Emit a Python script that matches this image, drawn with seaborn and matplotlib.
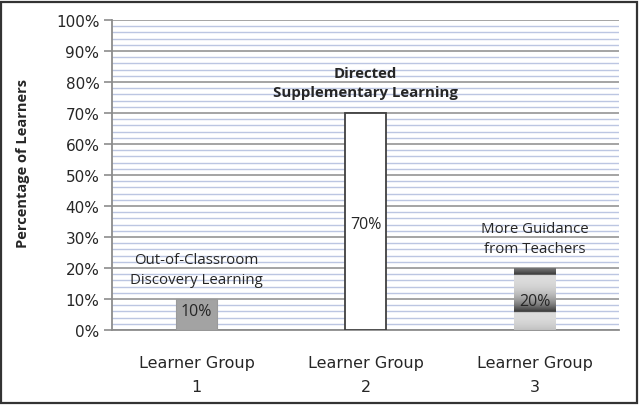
import numpy as np
import pandas as pd
import matplotlib
matplotlib.use("Agg")
import matplotlib.pyplot as plt
from matplotlib.patches import Rectangle
from matplotlib.ticker import MultipleLocator, PercentFormatter
import seaborn as sns

# data
groups = ["Learner Group\n1", "Learner Group\n2", "Learner Group\n3"]
shares = [10, 70, 20]
value_labels = ["10%", "70%", "20%"]
notes = ["Out-of-Classroom\nDiscovery Learning",
         "Directed\nSupplementary Learning",
         "More Guidance\nfrom Teachers"]

df = pd.DataFrame({"group": groups, "share": shares})

sns.set_theme(style="white")
plt.rcParams["font.family"] = ["DejaVu Sans"]

fig = plt.figure(figsize=(6.41, 4.06), dpi=100)
ax = fig.add_axes([112 / 641, 1 - 331 / 406, 507 / 641, 310 / 406])

sns.barplot(data=df, x="group", y="share", hue="group",
            palette=["#a3a3a3", "#ffffff", "#b0b0b0"], legend=False,
            width=0.245, saturation=1, ax=ax, zorder=3)

bars = ax.patches
bars[0].set_edgecolor("#9a9a9a")
bars[0].set_linewidth(0.8)
bars[1].set_edgecolor("#404040")
bars[1].set_linewidth(1.3)
bars[2].set_edgecolor("none")

# banded grey gradient fill for the third bar (darker towards each band's bottom)
b = bars[2]
bx, by = b.get_x(), b.get_y()
bw, bh = b.get_width(), b.get_height()
t = np.linspace(0, 1, 300)
depth = 1 - t
phase = ((depth - 0.11) / 0.6) % 1.0
shade = 0.86 - 0.66 * phase ** 2.5
img = np.repeat(shade[:, None], 4, axis=1)
im = ax.imshow(img, cmap="gray", vmin=0, vmax=1, origin="lower",
               extent=[bx, bx + bw, by, by + bh], aspect="auto",
               interpolation="bilinear", zorder=3.5)
im.set_clip_path(b)

ax.set_xlim(-0.5, 2.5)
ax.set_ylim(0, 100)
ax.yaxis.set_major_locator(MultipleLocator(10))
ax.yaxis.set_minor_locator(MultipleLocator(2))
ax.yaxis.set_major_formatter(PercentFormatter(decimals=0))
ax.grid(axis="y", which="minor", color="#bcc6e2", linewidth=1.0, zorder=0)
ax.grid(axis="y", which="major", color="#9d9d9d", linewidth=1.3, zorder=1)
ax.set_axisbelow(True)

for s in ["top", "right"]:
    ax.spines[s].set_visible(False)
ax.spines["left"].set_color("#8c8c8c")
ax.spines["left"].set_linewidth(1.3)
ax.spines["bottom"].set_color("#8c8c8c")
ax.spines["bottom"].set_linewidth(1.3)

ax.tick_params(axis="y", which="major", left=True, length=6, width=1.2,
               color="#8c8c8c", pad=3, labelsize=11, labelcolor="#262626")
ax.tick_params(axis="y", which="minor", left=False)
ax.tick_params(axis="x", bottom=False, pad=12, labelsize=11.5, labelcolor="#262626")
for lab in ax.get_xticklabels():
    lab.set_linespacing(1.75)

ax.set_xlabel("")
ax.set_ylabel("Percentage of Learners", fontsize=10.5, fontweight="bold",
              color="#262626", fontfamily="Open Sans")
ax.yaxis.set_label_coords(-0.162, 0.54)

# value labels inside bars
value_y = [6.2, 34.2, 9.4]
for i, lab in enumerate(value_labels):
    ax.text(i, value_y[i], lab, ha="center", va="center", fontsize=11.5,
            color="#262626", fontfamily="Open Sans", zorder=5)

# category annotations above bars
note_y = [19.5, 79.8, 29.4]
note_x = [0, 1.0, 2]
note_w = ["normal", "bold", "normal"]
for i, n in enumerate(notes):
    ax.text(note_x[i], note_y[i], n, ha="center", va="center", fontsize=10.8,
            fontweight=note_w[i], color="#262626", linespacing=1.45,
            fontfamily="Open Sans", zorder=5)

# outer chart frame
fig.patches.append(Rectangle((0.5 / 641, 2 / 406), 636 / 641, 401 / 406,
                             transform=fig.transFigure, fill=False,
                             edgecolor="#333333", linewidth=1.6))

fig.savefig("out.png", dpi=100)
